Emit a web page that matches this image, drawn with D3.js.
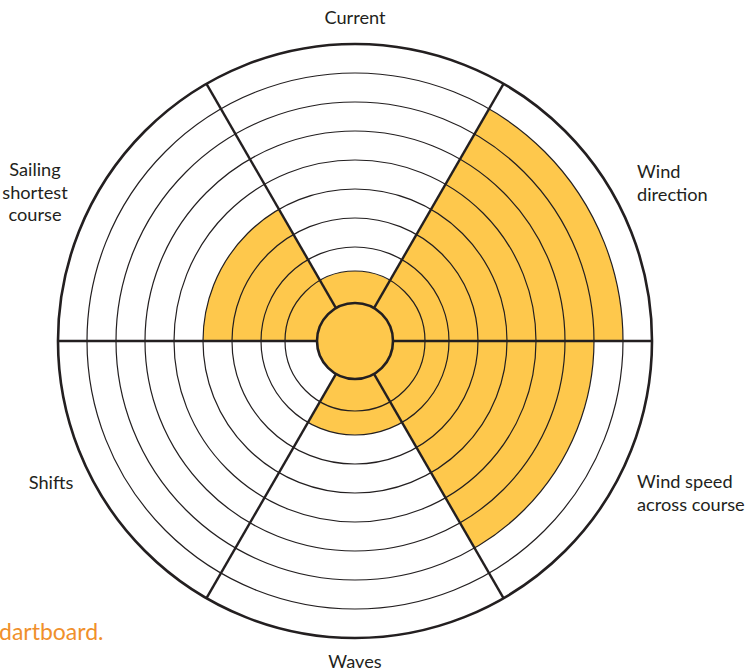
<!DOCTYPE html>
<html>
<head>
<meta charset="utf-8">
<script src="https://cdn.jsdelivr.net/npm/d3@7"></script>
<style>
  html, body { margin: 0; padding: 0; background: #fff; overflow: hidden; }
  text { font-family: Lato, "Open Sans", sans-serif; }
</style>
</head>
<body>
<svg id="chart"></svg>
<script>
// Sectors, clockwise from the top
const categories = ["Current", "Wind direction", "Wind speed across course", "Waves", "Shifts", "Sailing shortest course"];
// How far each sector is shaded (rings out from the centre)
const scores = [1, 8, 7, 2, 0, 4];
// Ring levels drawn on the board
const levels = [1, 2, 3, 4, 5, 6, 7, 8];
const maxLevel = 9;
// Label line breaks
const labelLines = [["Current"], ["Wind", "direction"], ["Wind speed", "across course"], ["Waves"], ["Shifts"], ["Sailing", "shortest", "course"]];

const width = 755, height = 671;
const cx = 355, cy = 341;
const ink = "#231f20";
const orange = "#fec84c";

const svg = d3.select("#chart")
    .attr("width", width)
    .attr("height", height);

// radius scale: inner bullseye at 0, outer rim at 9
const r = d3.scaleLinear()
    .domain([0, 1, 2, maxLevel])
    .range([38, 70, 94, 297]);

// angle scale: sector i spans a(i)..a(i+1), 0 = top, clockwise
const a = d3.scaleLinear()
    .domain([0, categories.length])
    .range([-Math.PI / 6, 2 * Math.PI - Math.PI / 6]);

const g = svg.append("g").attr("transform", `translate(${cx},${cy})`);

// shaded sectors
const arc = d3.arc();
g.selectAll("path.fill")
    .data(scores)
    .enter()
    .append("path")
    .attr("class", "fill")
    .attr("d", (d, i) => d > 0 ? arc({
        innerRadius: r(0),
        outerRadius: r(d),
        startAngle: a(i),
        endAngle: a(i + 1)
    }) : null)
    .attr("fill", orange);

// rings
g.selectAll("circle.ring")
    .data(levels)
    .enter()
    .append("circle")
    .attr("class", "ring")
    .attr("r", d => r(d))
    .attr("fill", "none")
    .attr("stroke", ink)
    .attr("stroke-width", 1.2);

// spokes
g.selectAll("line.spoke")
    .data(d3.range(categories.length))
    .enter()
    .append("line")
    .attr("class", "spoke")
    .attr("x1", i => r(0) * Math.sin(a(i)))
    .attr("y1", i => -r(0) * Math.cos(a(i)))
    .attr("x2", i => r(maxLevel) * Math.sin(a(i)))
    .attr("y2", i => -r(maxLevel) * Math.cos(a(i)))
    .attr("stroke", ink)
    .attr("stroke-width", 2.4);

// outer rim
g.append("circle")
    .attr("r", r(maxLevel))
    .attr("fill", "none")
    .attr("stroke", ink)
    .attr("stroke-width", 2.6);

// bullseye
g.append("circle")
    .attr("r", r(0))
    .attr("fill", orange)
    .attr("stroke", ink)
    .attr("stroke-width", 2.6);

// labels (anchor point + alignment per sector)
const labelLayout = [
    { x: 355, y: 24, anchor: "middle" },
    { x: 637, y: 178, anchor: "start" },
    { x: 637, y: 488, anchor: "start" },
    { x: 355, y: 668, anchor: "middle" },
    { x: 51, y: 489, anchor: "middle" },
    { x: 35, y: 176, anchor: "middle" }
];
const lineH = 22.5;

const labels = svg.selectAll("text.label")
    .data(categories)
    .enter()
    .append("text")
    .attr("class", "label")
    .attr("x", (d, i) => labelLayout[i].x)
    .attr("y", (d, i) => labelLayout[i].y)
    .attr("text-anchor", (d, i) => labelLayout[i].anchor)
    .attr("font-size", 18.2)
    .attr("fill", ink);

labels.selectAll("tspan")
    .data((d, i) => labelLines[i].map(t => ({ t, x: labelLayout[i].x })))
    .enter()
    .append("tspan")
    .attr("x", d => d.x)
    .attr("dy", (d, j) => j === 0 ? 0 : lineH)
    .text(d => d.t);

// caption fragment at bottom left
svg.append("text")
    .attr("x", -1)
    .attr("y", 640)
    .attr("font-size", 23)
    .attr("fill", "#f0902b")
    .text("dartboard.");
</script>
</body>
</html>
